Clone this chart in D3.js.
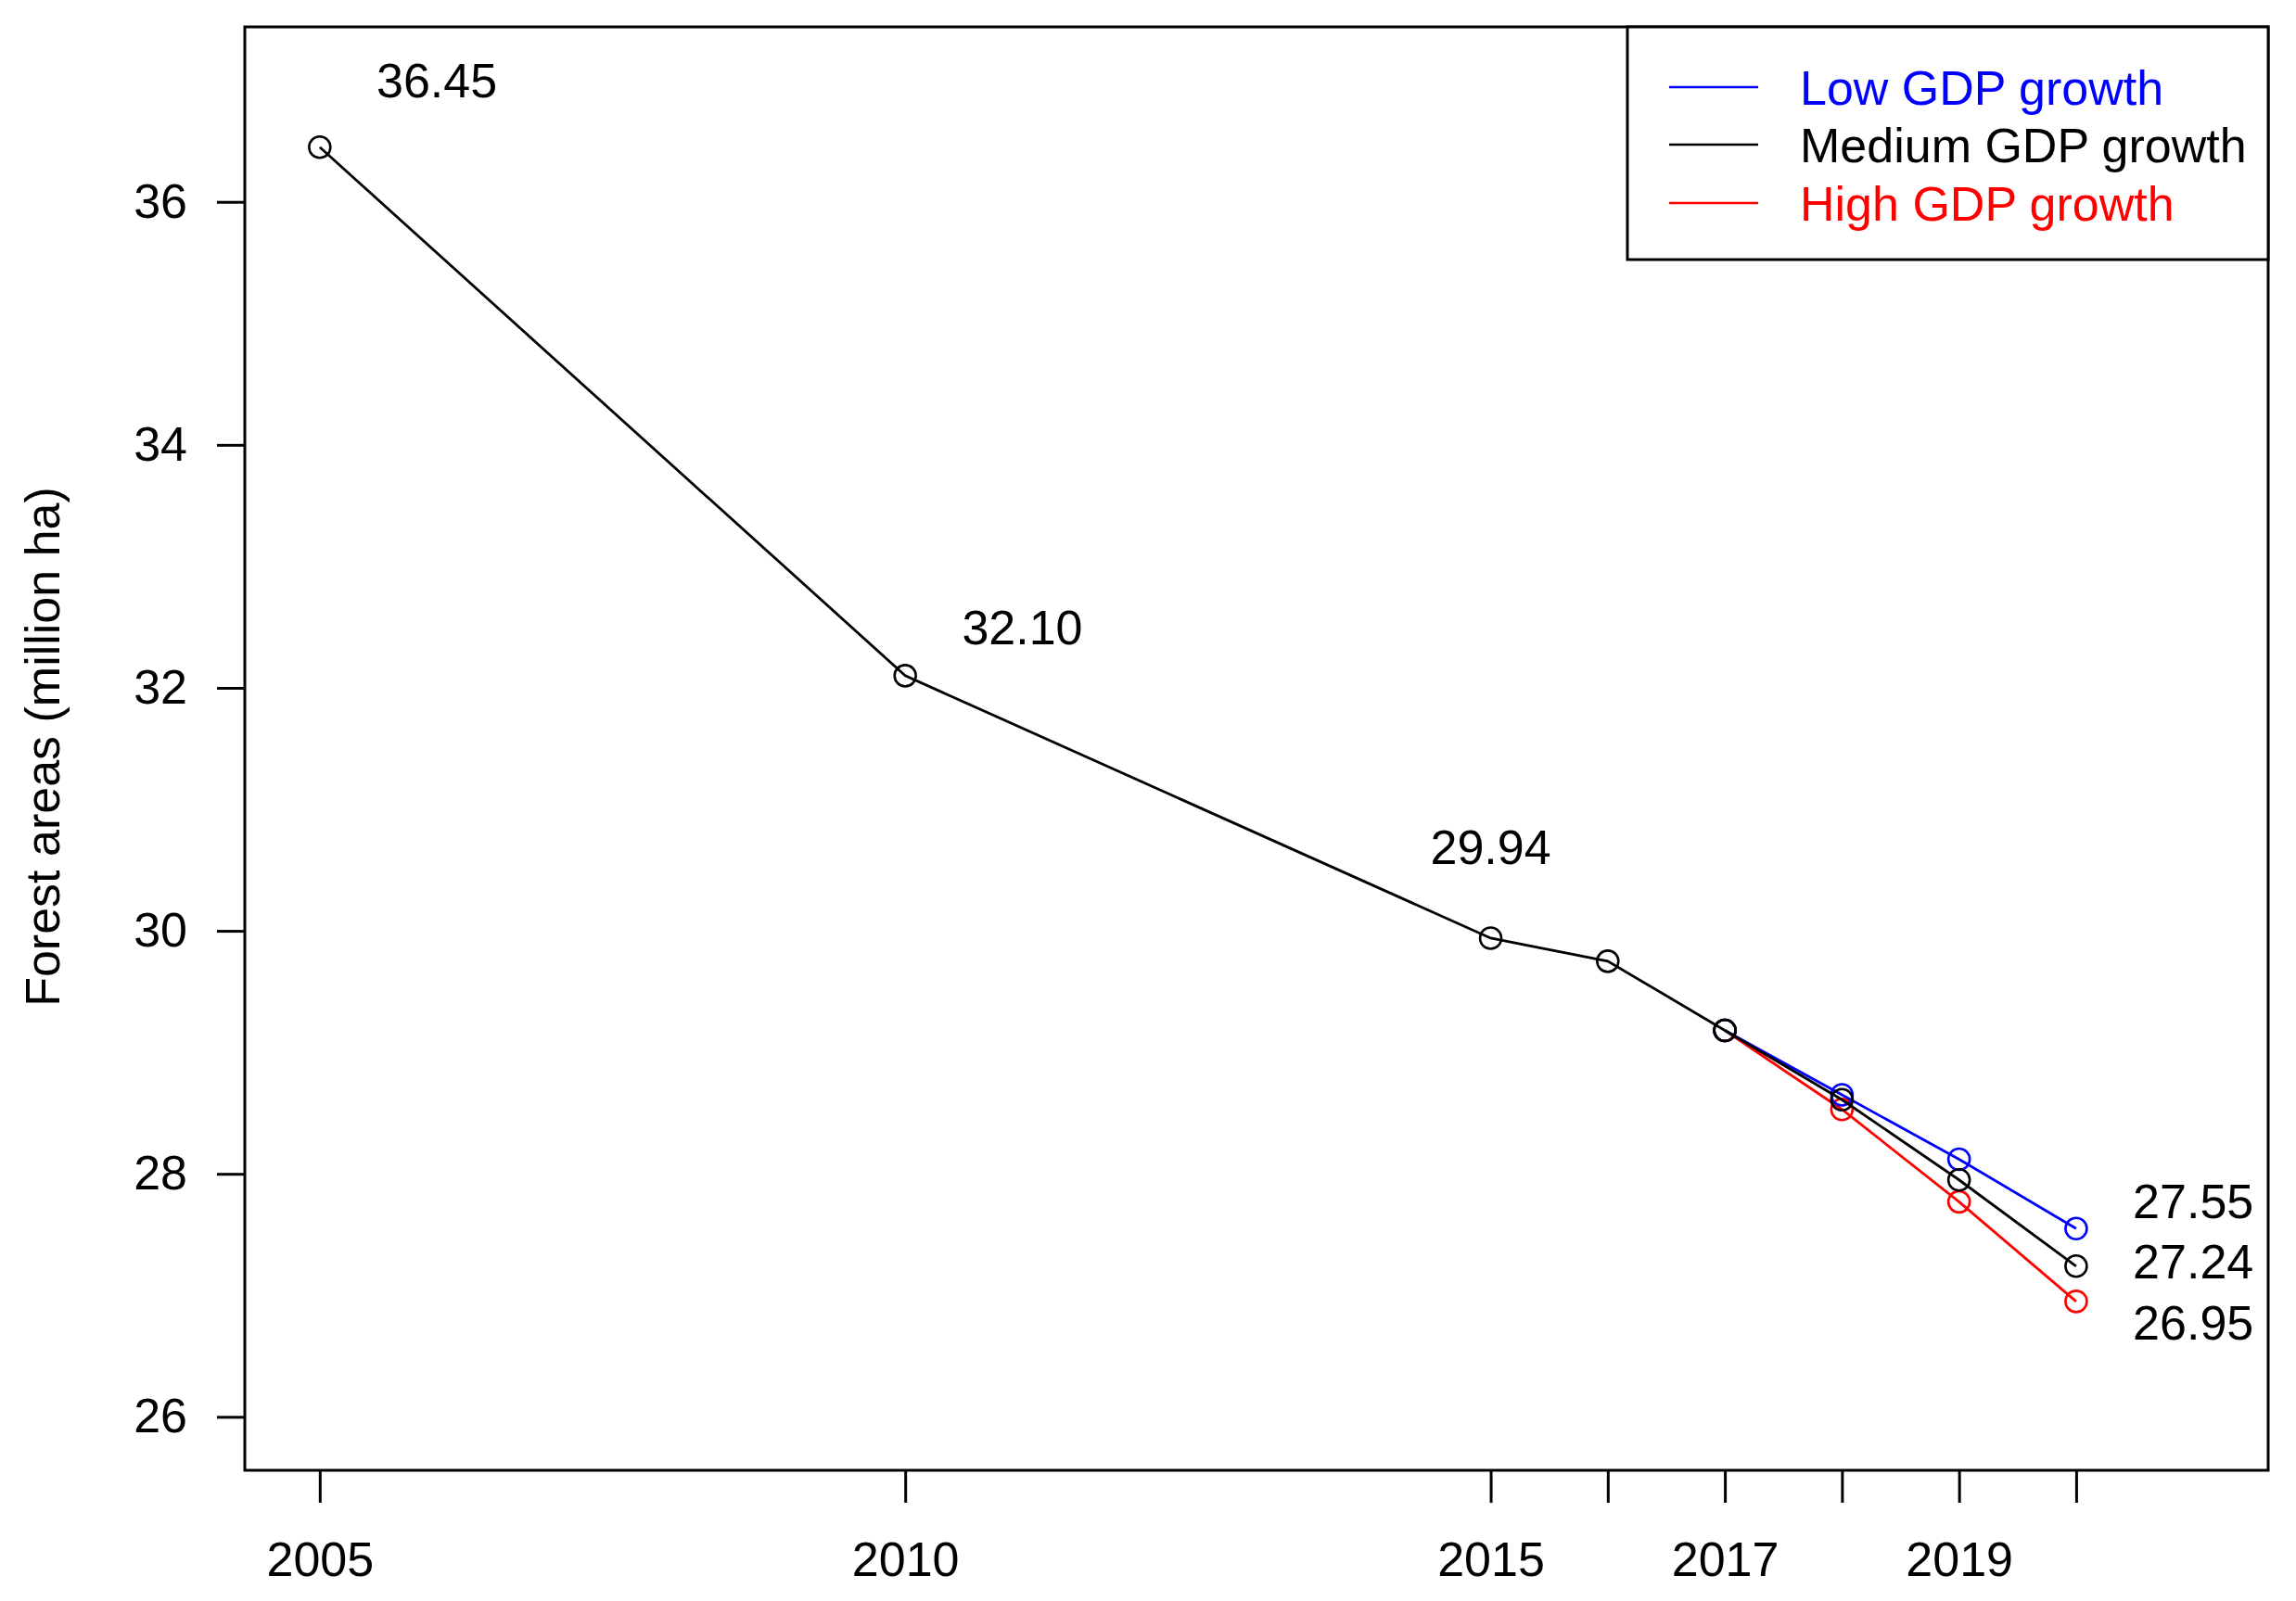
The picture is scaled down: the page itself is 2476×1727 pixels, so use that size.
<!DOCTYPE html>
<html>
<head>
<meta charset="utf-8">
<script src="https://cdn.jsdelivr.net/npm/d3@7"></script>
<style>
  html, body { margin: 0; padding: 0; background: #fff; }
  svg text { font-family: "Liberation Sans", Arial, Helvetica, sans-serif; }
</style>
</head>
<body>
<svg id="chart" width="2476" height="1727"></svg>
<script>
// ---- data ----
const histYears = [2005, 2010, 2015, 2016, 2017];
const histValues = [36.45, 32.10, 29.94, 29.75, 29.18];
const projYears = [2017, 2018, 2019, 2020];
const lowValues = [29.18, 28.65, 28.12, 27.55];
const mediumValues = [29.18, 28.61, 27.95, 27.24];
const highValues = [29.18, 28.53, 27.77, 26.95];
const xTickValues = [2005, 2010, 2015, 2016, 2017, 2018, 2019, 2020];
const xTickLabels = ["2005", "2010", "2015", "", "2017", "", "2019", ""];
const yTickValues = [26, 28, 30, 32, 34, 36];
const seriesNames = ["Low GDP growth", "Medium GDP growth", "High GDP growth"];
const seriesColors = ["#0000ff", "#000000", "#ff0000"];
const annotatedHist = [
  {year: 2005, value: 36.45, text: "36.45"},
  {year: 2010, value: 32.10, text: "32.10"},
  {year: 2015, value: 29.94, text: "29.94"}
];
const endLabels = ["27.55", "27.24", "26.95"];
const yTitle = "Forest areas (million ha)";

// ---- layout ----
const W = 2476, H = 1727;
const plot = {left: 264, right: 2446, top: 29, bottom: 1586};
const FS = 52;
const svg = d3.select("#chart");
svg.append("rect").attr("width", W).attr("height", H).attr("fill", "#fff");

const xlim = [2005, 2021], ylim = [26, 37];
const xe = (xlim[1] - xlim[0]) * 0.04, ye = (ylim[1] - ylim[0]) * 0.04;
const x = d3.scaleLinear().domain([xlim[0] - xe, xlim[1] + xe]).range([plot.left, plot.right]);
const y = d3.scaleLinear().domain([ylim[0] - ye, ylim[1] + ye]).range([plot.bottom, plot.top]);

// axes
const yAxis = d3.axisLeft(y).tickValues(yTickValues).tickSize(30).tickPadding(32).tickFormat(d3.format("d"));
const gy = svg.append("g").attr("transform", `translate(${plot.left},0)`).call(yAxis);
const xAxis = d3.axisBottom(x).tickValues(xTickValues).tickSize(35).tickPadding(42)
  .tickFormat((d, i) => xTickLabels[i]);
const gx = svg.append("g").attr("transform", `translate(0,${plot.bottom})`).call(xAxis);
[gx, gy].forEach(g => {
  g.select(".domain").remove();
  g.selectAll(".tick line").attr("stroke", "#000").attr("stroke-width", 3);
  g.selectAll(".tick text").attr("fill", "#000").style("font-size", FS + "px");
});

// plot frame
svg.append("rect")
  .attr("x", plot.left).attr("y", plot.top)
  .attr("width", plot.right - plot.left).attr("height", plot.bottom - plot.top)
  .attr("fill", "none").attr("stroke", "#000").attr("stroke-width", 3);

// y title
svg.append("text")
  .attr("transform", `translate(64,${(plot.top + plot.bottom) / 2 - 2}) rotate(-90)`)
  .attr("text-anchor", "middle")
  .style("font-size", FS + "px")
  .text(yTitle);

// lines
const line = d3.line().x(d => x(d[0])).y(d => y(d[1]));
const drawSeries = (years, values, color) => {
  const pts = years.map((yr, i) => [yr, values[i]]);
  svg.append("path").datum(pts).attr("d", line)
    .attr("fill", "none").attr("stroke", color).attr("stroke-width", 2.8);
  svg.selectAll(null).data(pts).enter().append("circle")
    .attr("cx", d => x(d[0])).attr("cy", d => y(d[1])).attr("r", 11.5)
    .attr("fill", "none").attr("stroke", color).attr("stroke-width", 2.6);
};
drawSeries(projYears, highValues, seriesColors[2]);
drawSeries(projYears, lowValues, seriesColors[0]);
drawSeries(histYears, histValues, "#000");
drawSeries(projYears, mediumValues, seriesColors[1]);

// historical annotations (offset above points)
const annOffsets = [[1, 0.55], [1, 0.4], [0, 0.75]];
annotatedHist.forEach((a, i) => {
  svg.append("text")
    .attr("x", x(a.year + annOffsets[i][0]))
    .attr("y", y(a.value + annOffsets[i][1]))
    .attr("dy", "0.36em")
    .attr("text-anchor", "middle")
    .style("font-size", FS + "px")
    .text(a.text);
});

// end labels
const endLabelY = [27.78, 27.28, 26.78];
endLabels.forEach((t, i) => {
  svg.append("text")
    .attr("x", x(2021))
    .attr("y", y(endLabelY[i]))
    .attr("dy", "0.36em")
    .attr("text-anchor", "middle")
    .style("font-size", FS + "px")
    .text(t);
});

// legend
const lg = {left: 1755, top: plot.top, right: plot.right, bottom: 280};
svg.append("rect")
  .attr("x", lg.left).attr("y", lg.top)
  .attr("width", lg.right - lg.left).attr("height", lg.bottom - lg.top)
  .attr("fill", "#fff").attr("stroke", "#000").attr("stroke-width", 3);
const rowY = [94, 156, 219];
seriesNames.forEach((name, i) => {
  svg.append("line")
    .attr("x1", 1800).attr("x2", 1896).attr("y1", rowY[i]).attr("y2", rowY[i])
    .attr("stroke", seriesColors[i]).attr("stroke-width", 2.6);
  svg.append("text")
    .attr("x", 1941).attr("y", rowY[i]).attr("dy", "0.36em")
    .attr("fill", seriesColors[i])
    .style("font-size", FS + "px")
    .text(name);
});
</script>
</body>
</html>
